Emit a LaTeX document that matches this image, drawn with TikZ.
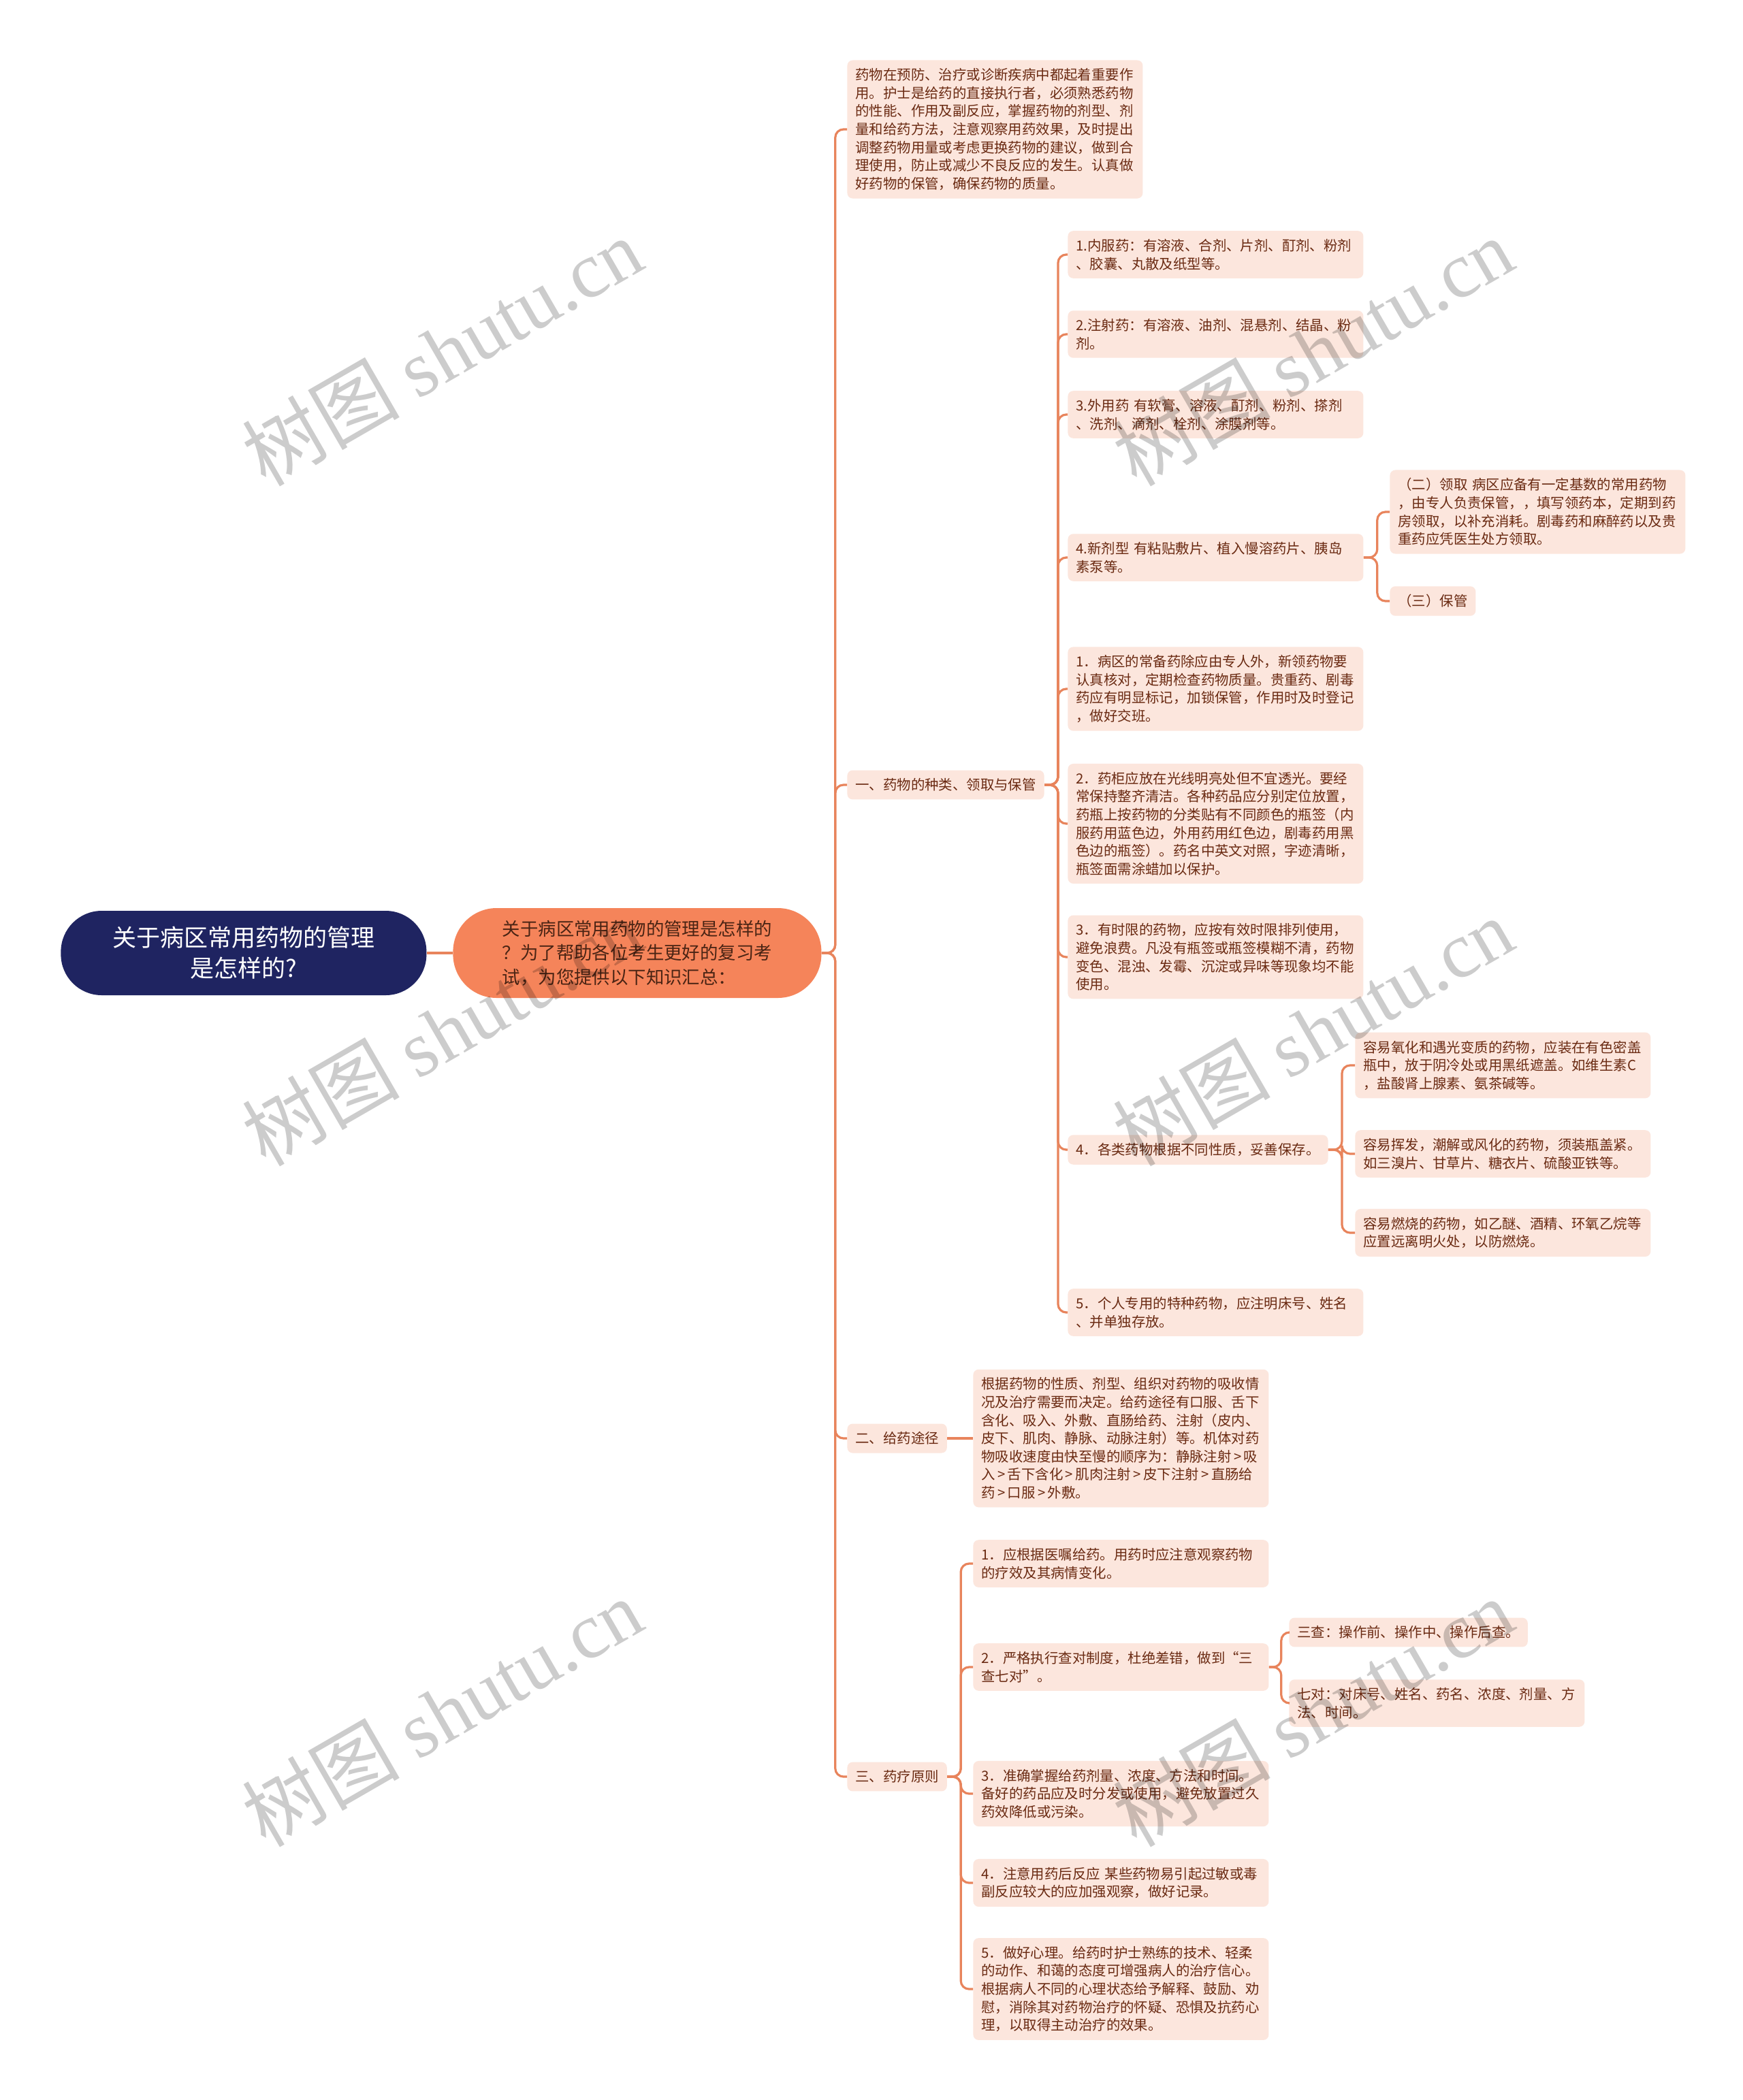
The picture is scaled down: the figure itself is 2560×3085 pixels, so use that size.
\documentclass[tikz,border=0pt]{standalone}
\usepackage{fontspec}
\setmainfont{Noto Sans CJK SC}
\newfontfamily\wmfont{Liberation Serif}
\usetikzlibrary{positioning}

\definecolor{navy}{HTML}{1F2461}
\definecolor{coral}{HTML}{F5845A}
\definecolor{peach}{HTML}{FCE6DD}
\definecolor{leaftext}{HTML}{6A2A12}
\definecolor{ctrtext}{HTML}{4A2414}
\definecolor{linec}{HTML}{E8845C}

\tikzset{
  leaf/.style={rectangle, rounded corners=4pt, fill=peach, text=leaftext, align=left,
    inner xsep=6pt, inner ysep=6pt, anchor=west, font=\fontsize{10.2}{13.3}\selectfont},
  wide/.style={leaf, text width=205pt},
  link/.style={draw=linec, line width=1.6pt, rounded corners=6pt},
  wmark/.style={rotate=30, text=black, text opacity=0.2, font=\fontsize{58}{58}\selectfont}
}
\newcommand{\gt}{\,>\,}

\begin{document}
\begin{tikzpicture}[x=0.5pt, y=-0.5pt]
\useasboundingbox[fill=white] (0,0) rectangle (2560,3085);

% root and centre
\node[rectangle, rounded corners=30pt, fill=navy, text=white, align=center, anchor=west,
  minimum width=268.5pt, minimum height=62pt, font=\fontsize{17.5}{22.6}\selectfont]
  (root) at (89,1400) {关于病区常用药物的管理\\是怎样的?};
\node[rectangle, rounded corners=32pt, fill=coral, text=ctrtext, align=left, anchor=west,
  minimum width=270.5pt, minimum height=66pt, font=\fontsize{13.2}{17.7}\selectfont]
  (ctr) at (665,1400) {关于病区常用药物的管理是怎样的\\？为了帮助各位考生更好的复习考\\试，为您提供以下知识汇总：};

% first level
\node[wide] (intro) at (1244,190) {药物在预防、治疗或诊断疾病中都起着重要作\\用。护士是给药的直接执行者，必须熟悉药物\\的性能、作用及副反应，掌握药物的剂型、剂\\量和给药方法，注意观察用药效果，及时提出\\调整药物用量或考虑更换药物的建议，做到合\\理使用，防止或减少不良反应的发生。认真做\\好药物的保管，确保药物的质量。};
\node[leaf] (b1) at (1244,1153) {一、药物的种类、领取与保管};
\node[leaf] (b2) at (1244,2113) {二、给药途径};
\node[leaf] (b3) at (1244,2610) {三、药疗原则};

% kinds, receiving, keeping
\node[wide] (k1) at (1568,374) {1.内服药：有溶液、合剂、片剂、酊剂、粉剂\\、胶囊、丸散及纸型等。};
\node[wide] (k2) at (1568,491) {2.注射药：有溶液、油剂、混悬剂、结晶、粉\\剂。};
\node[wide] (k3) at (1568,609) {3.外用药 有软膏、溶液、酊剂、粉剂、搽剂\\、洗剂、滴剂、栓剂、涂膜剂等。};
\node[wide] (k4) at (1568,819) {4.新剂型 有粘贴敷片、植入慢溶药片、胰岛\\素泵等。};
\node[wide] (s1) at (1568,1012) {1．病区的常备药除应由专人外，新领药物要\\认真核对，定期检查药物质量。贵重药、剧毒\\药应有明显标记，加锁保管，作用时及时登记\\，做好交班。};
\node[wide] (s2) at (1568,1210) {2．药柜应放在光线明亮处但不宜透光。要经\\常保持整齐清洁。各种药品应分别定位放置，\\药瓶上按药物的分类贴有不同颜色的瓶签（内\\服药用蓝色边，外用药用红色边，剧毒药用黑\\色边的瓶签）。药名中英文对照，字迹清晰，\\瓶签面需涂蜡加以保护。};
\node[wide] (s3) at (1568,1406) {3．有时限的药物，应按有效时限排列使用，\\避免浪费。凡没有瓶签或瓶签模糊不清，药物\\变色、混浊、发霉、沉淀或异味等现象均不能\\使用。};
\node[leaf] (s4) at (1568,1689) {4．各类药物根据不同性质，妥善保存。};
\node[wide] (s5) at (1568,1928) {5．个人专用的特种药物，应注明床号、姓名\\、并单独存放。};

\node[wide] (r1) at (2041,752) {（二）领取 病区应备有一定基数的常用药物\\，由专人负责保管，，填写领药本，定期到药\\房领取，以补充消耗。剧毒药和麻醉药以及贵\\重药应凭医生处方领取。};
\node[leaf] (r2) at (2041,883) {（三）保管};

\node[wide] (v1) at (1990,1565) {容易氧化和遇光变质的药物，应装在有色密盖\\瓶中，放于阴冷处或用黑纸遮盖。如维生素C\\，盐酸肾上腺素、氨茶碱等。};
\node[wide] (v2) at (1990,1695) {容易挥发，潮解或风化的药物，须装瓶盖紧。\\如三溴片、甘草片、糖衣片、硫酸亚铁等。};
\node[wide] (v3) at (1990,1811) {容易燃烧的药物，如乙醚、酒精、环氧乙烷等\\应置远离明火处，以防燃烧。};

% routes
\node[wide] (route) at (1429,2113) {根据药物的性质、剂型、组织对药物的吸收情\\况及治疗需要而决定。给药途径有口服、舌下\\含化、吸入、外敷、直肠给药、注射（皮内、\\皮下、肌肉、静脉、动脉注射）等。机体对药\\物吸收速度由快至慢的顺序为：静脉注射\gt 吸\\入\gt 舌下含化\gt 肌肉注射\gt 皮下注射\gt 直肠给\\药\gt 口服\gt 外敷。};

% principles
\node[wide] (p1) at (1429,2297) {1．应根据医嘱给药。用药时应注意观察药物\\的疗效及其病情变化。};
\node[wide] (p2) at (1429,2449) {2．严格执行查对制度，杜绝差错，做到“三\\查七对”。};
\node[wide] (p3) at (1429,2635) {3．准确掌握给药剂量、浓度、方法和时间。\\备好的药品应及时分发或使用，避免放置过久\\药效降低或污染。};
\node[wide] (p4) at (1429,2766) {4．注意用药后反应 某些药物易引起过敏或毒\\副反应较大的应加强观察，做好记录。};
\node[wide] (p5) at (1429,2922) {5．做好心理。给药时护士熟练的技术、轻柔\\的动作、和蔼的态度可增强病人的治疗信心。\\根据病人不同的心理状态给予解释、鼓励、劝\\慰，消除其对药物治疗的怀疑、恐惧及抗药心\\理，以取得主动治疗的效果。};

\node[leaf] (q1) at (1893,2398) {三查：操作前、操作中、操作后查。};
\node[wide] (q2) at (1893,2502) {七对：对床号、姓名、药名、浓度、剂量、方\\法、时间。};

% junctions
\coordinate[right=10pt of ctr.east] (j0);
\coordinate[right=10pt of b1.east] (j1);
\coordinate[right=10pt of b3.east] (j3);
\coordinate[right=10pt of k4.east] (jk4);
\coordinate[right=10pt of s4.east] (js4);
\coordinate[right=9pt of p2.east] (jp2);

% connectors
\draw[link] (root) -- (ctr);
\foreach \c in {intro,b1,b2,b3}
  \draw[link] (ctr.east) -- (j0) |- (\c.west);
\foreach \c in {k1,k2,k3,k4,s1,s2,s3,s4,s5}
  \draw[link] (b1.east) -- (j1) |- (\c.west);
\foreach \c in {r1,r2}
  \draw[link] (k4.east) -- (jk4) |- (\c.west);
\foreach \c in {v1,v2,v3}
  \draw[link] (s4.east) -- (js4) |- (\c.west);
\draw[link] (b2) -- (route);
\foreach \c in {p1,p2,p3,p4,p5}
  \draw[link] (b3.east) -- (j3) |- (\c.west);
\foreach \c in {q1,q2}
  \draw[link] (p2.east) -- (jp2) |- (\c.west);

% watermark
\foreach \wx in {649,1928}
  \foreach \wy in {516,1515,2515}
    \node[wmark] (wm\wx\wy) at (\wx,\wy) {树图 {\wmfont shutu.cn}};
\end{tikzpicture}
\end{document}
